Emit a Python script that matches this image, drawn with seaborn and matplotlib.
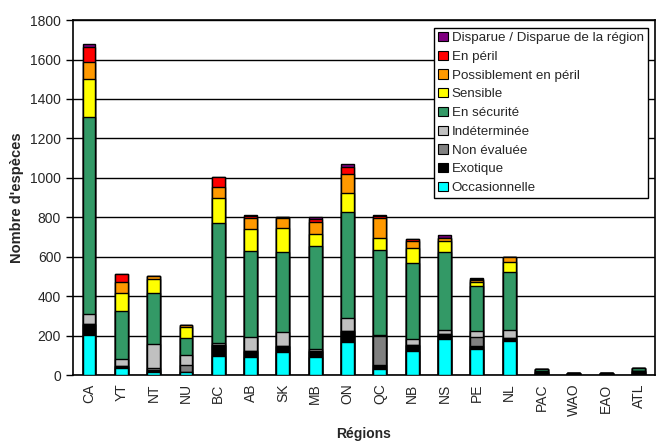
import numpy as np
import pandas as pd
import seaborn as sns
import matplotlib.pyplot as plt
from matplotlib.patches import Patch

# Regions and number of species per status
regions = ['CA', 'YT', 'NT', 'NU', 'BC', 'AB', 'SK', 'MB', 'ON', 'QC',
           'NB', 'NS', 'PE', 'NL', 'PAC', 'WAO', 'EAO', 'ATL']

occasionnelle = [202, 34, 17, 14, 94, 90, 119, 89, 170, 32, 124, 182, 130, 171, 0, 0, 0, 0]
exotique = [59, 12, 9, 0, 60, 33, 29, 35, 55, 19, 29, 28, 18, 19, 14, 12, 10, 22]
non_evaluee = [0, 0, 8, 37, 0, 0, 0, 0, 0, 148, 0, 0, 45, 0, 0, 0, 0, 0]
indeterminee = [50, 36, 123, 50, 10, 70, 70, 7, 65, 3, 29, 18, 29, 40, 6, 0, 0, 0]
securite = [1000, 244, 257, 87, 608, 435, 404, 522, 536, 430, 384, 394, 230, 295, 10, 0, 0, 12]
sensible = [189, 88, 71, 56, 124, 113, 123, 61, 98, 62, 76, 56, 22, 46, 0, 0, 0, 0]
possible = [88, 58, 16, 12, 56, 56, 51, 61, 97, 102, 40, 17, 8, 27, 0, 0, 0, 0]
peril = [75, 39, 0, 0, 51, 10, 8, 14, 36, 12, 8, 0, 5, 0, 0, 0, 0, 0]
disparue = [17, 0, 0, 0, 3, 5, 0, 10, 15, 3, 0, 14, 7, 0, 0, 0, 0, 0]

# Stacking order, bottom to top
series = [
    ('Occasionnelle', occasionnelle, '#00FFFF'),
    ('Exotique', exotique, '#000000'),
    ('Non évaluée', non_evaluee, '#808080'),
    ('Indéterminée', indeterminee, '#C0C0C0'),
    ('En sécurité', securite, '#339966'),
    ('Sensible', sensible, '#FFFF00'),
    ('Possiblement en péril', possible, '#FF9900'),
    ('En péril', peril, '#FF0000'),
    ('Disparue / Disparue de la région', disparue, '#800080'),
]

sns.set_style('white')
plt.rcParams['font.family'] = ['Liberation Sans', 'DejaVu Sans']

fig = plt.figure(figsize=(6.62, 4.47), dpi=100)
ax = fig.add_axes([0.110, 0.161, 0.879, 0.794])

# cumulative sums, drawn from the top segment down so each covers the one above
cum = np.cumsum([np.array(s[1]) for s in series], axis=0)
for i in range(len(series) - 1, -1, -1):
    df = pd.DataFrame({'Region': regions, 'Total': cum[i]})
    sns.barplot(data=df, x='Region', y='Total', color=series[i][2], width=0.4,
                edgecolor='black', linewidth=1, saturation=1, ax=ax, zorder=3)

ax.set_xlim(-0.5, len(regions) - 0.5)
ax.set_ylim(0, 1800)
ax.set_yticks(range(0, 1801, 200))
ax.grid(axis='y', color='black', linewidth=1, zorder=0)
ax.set_axisbelow(True)

for sp in ax.spines.values():
    sp.set_color('black')
    sp.set_linewidth(1.2)

# ticks between categories
ax.set_xticks(np.arange(-0.5, len(regions), 1), minor=True)
ax.tick_params(axis='x', which='major', length=0, labelsize=10, rotation=90, pad=6)
ax.tick_params(axis='x', which='minor', length=5, width=1, color='black', direction='out')
ax.tick_params(axis='y', length=5, width=1, color='black', direction='out', labelsize=10, left=True)

ax.set_xlabel('Régions', fontsize=10, fontweight='bold', labelpad=8)
ax.set_ylabel("Nombre d'espèces", fontsize=10.5, fontweight='bold', labelpad=4)

handles = [Patch(facecolor=c, edgecolor='black', linewidth=0.8, label=n)
           for n, v, c in reversed(series)]
leg = ax.legend(handles=handles, loc='upper right', bbox_to_anchor=(0.988, 0.978),
                borderaxespad=0, fontsize=9.6, frameon=True, fancybox=False,
                edgecolor='black', framealpha=1, labelspacing=0.48,
                handlelength=0.7, handleheight=0.7, handletextpad=0.3,
                borderpad=0.3)
leg.get_frame().set_linewidth(1)
leg.set_zorder(5)

fig.savefig('out.png', dpi=100)
